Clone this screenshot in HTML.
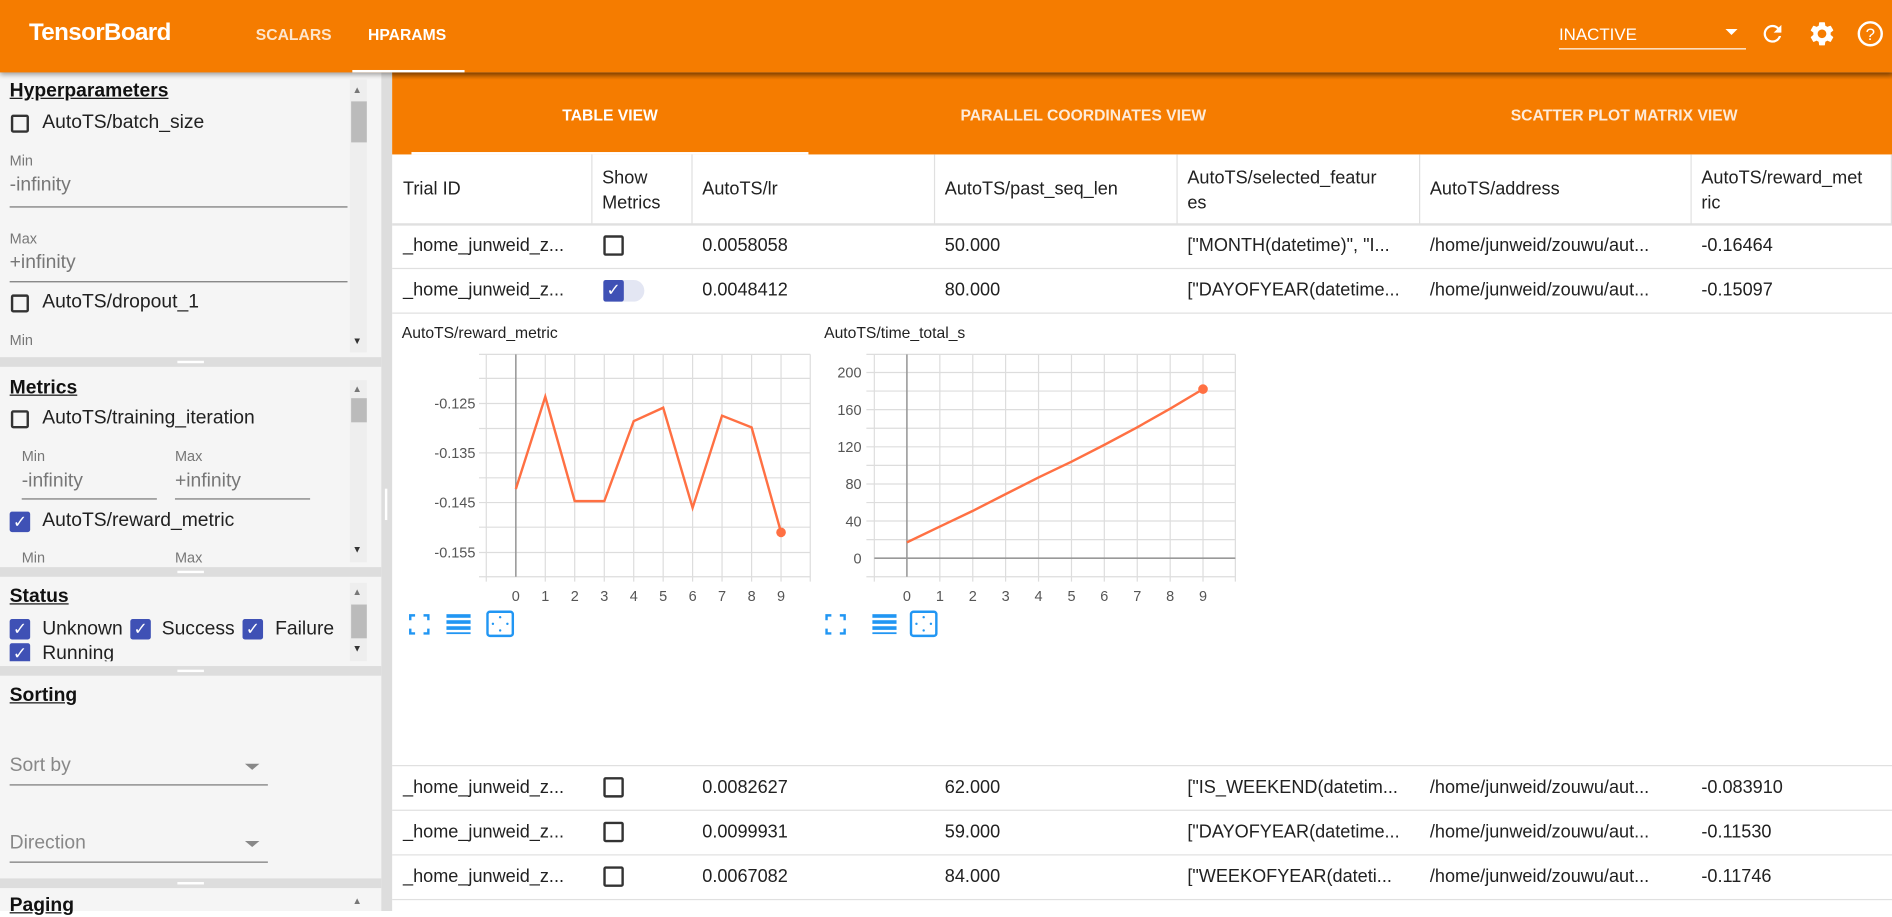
<!DOCTYPE html>
<html><head><meta charset="utf-8"><style>
html,body{margin:0;padding:0;width:1892px;height:911px;overflow:hidden;background:#fff}
#w{position:absolute;left:0;top:0;width:1568px;height:755px;transform:scale(1.20663);transform-origin:0 0;font-family:"Liberation Sans",sans-serif;color:#212121}
.a{position:absolute;white-space:nowrap}
.cb{position:absolute;width:15px;height:15px;border:2px solid #333;border-radius:2px;box-sizing:border-box}
.ck{position:absolute;width:17px;height:17px;background:#3f51b5;border-radius:2px;color:#fff;font-size:14px;line-height:17px;text-align:center}
.sep{position:absolute;left:0;width:316px;height:8px;background:#ddd}
.sep i{position:absolute;left:147px;top:3px;width:22px;height:2px;background:#fff}
.h{font-weight:bold;text-decoration:underline;font-size:16px;color:#111}
.lbl{font-size:12px;color:#777}
.inp{font-size:16px;color:#777}
.ln{position:absolute;height:1px;background:#777}
.sb{position:absolute;left:290px;width:14px;background:#eee}
.th{font-size:15px;color:#212121}
.td{font-size:15px;color:#212121}
.hl{position:absolute;left:325px;width:1243px;height:1px;background:#e0e0e0}
.vl{position:absolute;width:1px;background:#e0e0e0;top:128px;height:58px}
</style></head><body><div id="w">
<!-- top bar -->
<div class="a" style="left:0;top:0;width:1568px;height:60px;background:#f57c00;box-shadow:0 2px 4px rgba(0,0,0,.35);z-index:2">
 <div class="a" style="left:24px;top:16px;font-size:20px;font-weight:bold;color:#fff;letter-spacing:-0.5px">TensorBoard</div>
 <div class="a" style="left:212px;top:21px;font-size:13px;font-weight:bold;color:rgba(255,255,255,.8)">SCALARS</div>
 <div class="a" style="left:305px;top:21px;font-size:13px;font-weight:bold;color:#fff">HPARAMS</div>
 <div class="a" style="left:292px;top:58px;width:93px;height:2px;background:#fff"></div>
 <div class="a" style="left:1292px;top:20px;font-size:14px;color:#fff">INACTIVE</div>
 <div class="a" style="left:1430px;top:24px;width:0;height:0;border-left:5px solid transparent;border-right:5px solid transparent;border-top:5px solid #fff"></div>
 <div class="a" style="left:1292px;top:40px;width:155px;height:1px;background:#fff"></div>
 <svg class="a" style="left:1458px;top:17px" width="22" height="22" viewBox="0 0 24 24"><path fill="#fff" d="M17.65 6.35A7.958 7.958 0 0 0 12 4a8 8 0 1 0 7.73 10h-2.08A6 6 0 1 1 12 6c1.66 0 3.14.69 4.22 1.78L13 11h7V4l-2.35 2.35z"/></svg>
 <svg class="a" style="left:1498px;top:16px" width="24" height="24" viewBox="0 0 24 24"><path fill="#fff" d="M19.14 12.94c.04-.3.06-.61.06-.94 0-.32-.02-.64-.07-.94l2.03-1.58a.49.49 0 0 0 .12-.61l-1.92-3.32a.488.488 0 0 0-.59-.22l-2.39.96c-.5-.38-1.03-.7-1.62-.94l-.36-2.54a.484.484 0 0 0-.48-.41h-3.84c-.24 0-.43.17-.47.41l-.36 2.54c-.59.24-1.13.57-1.62.94l-2.39-.96c-.22-.08-.47 0-.59.22L2.74 8.87c-.12.21-.08.47.12.61l2.03 1.58c-.05.3-.09.63-.09.94s.02.64.07.94l-2.03 1.58a.49.49 0 0 0-.12.61l1.92 3.32c.12.22.37.29.59.22l2.39-.96c.5.38 1.03.7 1.62.94l.36 2.54c.05.24.24.41.48.41h3.84c.24 0 .44-.17.47-.41l.36-2.54c.59-.24 1.13-.56 1.62-.94l2.39.96c.22.08.47 0 .59-.22l1.92-3.32c.12-.22.07-.47-.12-.61l-2.01-1.58zM12 15.6c-1.98 0-3.6-1.62-3.6-3.6s1.62-3.6 3.6-3.6 3.6 1.62 3.6 3.6-1.62 3.6-3.6 3.6z"/></svg>
 <svg class="a" style="left:1538px;top:16px" width="24" height="24" viewBox="0 0 24 24"><circle cx="12" cy="12" r="9.5" fill="none" stroke="#fff" stroke-width="2"/><text x="12" y="17" font-size="14" font-family="Liberation Sans" fill="#fff" text-anchor="middle">?</text></svg>
</div>
<!-- sidebar -->
<div class="a" style="left:0;top:60px;width:316px;height:695px;background:#f5f5f5"></div>
<div class="a" style="left:316px;top:60px;width:9px;height:695px;background:#ddd"></div>
<div class="a" style="left:319px;top:405px;width:2px;height:26px;background:#fff"></div>
<div class="sep" style="top:296px"><i></i></div>
<div class="sep" style="top:470px"><i></i></div>
<div class="sep" style="top:552px"><i></i></div>
<div class="sep" style="top:728px"><i></i></div>
<div class="sb" style="top:66px;height:226px"></div><div class="a" style="left:291px;top:84px;width:13px;height:34px;background:#bbb"></div>
<div class="a" style="left:292px;top:70px;font-size:8px;color:#777">▲</div><div class="a" style="left:292px;top:278px;font-size:8px;color:#333">▼</div>
<div class="sb" style="top:315px;height:151px"></div><div class="a" style="left:291px;top:330px;width:13px;height:20px;background:#bbb"></div>
<div class="a" style="left:292px;top:318px;font-size:8px;color:#777">▲</div><div class="a" style="left:292px;top:451px;font-size:8px;color:#333">▼</div>
<div class="sb" style="top:483px;height:65px"></div><div class="a" style="left:291px;top:501px;width:13px;height:28px;background:#bbb"></div>
<div class="a" style="left:292px;top:486px;font-size:8px;color:#777">▲</div><div class="a" style="left:292px;top:533px;font-size:8px;color:#333">▼</div>
<div class="a" style="left:292px;top:742px;font-size:8px;color:#777">▲</div>

<div class="a h" style="left:8px;top:67px">Hyperparameters</div>
<div class="cb" style="left:9px;top:95px"></div><div class="a" style="left:35px;top:93px;font-size:16px">AutoTS/batch_size</div>
<div class="a lbl" style="left:8px;top:126px">Min</div>
<div class="a inp" style="left:8px;top:145px">-infinity</div><div class="ln" style="left:8px;top:171px;width:280px"></div>
<div class="a lbl" style="left:8px;top:191px">Max</div>
<div class="a inp" style="left:8px;top:209px">+infinity</div><div class="ln" style="left:8px;top:233px;width:280px"></div>
<div class="cb" style="left:9px;top:244px"></div><div class="a" style="left:35px;top:242px;font-size:16px">AutoTS/dropout_1</div>
<div class="a lbl" style="left:8px;top:275px">Min</div>

<div class="a h" style="left:8px;top:313px">Metrics</div>
<div class="cb" style="left:9px;top:340px"></div><div class="a" style="left:35px;top:338px;font-size:16px">AutoTS/training_iteration</div>
<div class="a lbl" style="left:18px;top:371px">Min</div><div class="a lbl" style="left:145px;top:371px">Max</div>
<div class="a inp" style="left:18px;top:390px">-infinity</div><div class="a inp" style="left:145px;top:390px">+infinity</div>
<div class="ln" style="left:18px;top:413px;width:112px"></div><div class="ln" style="left:145px;top:413px;width:112px"></div>
<div class="ck" style="left:8px;top:424px">✓</div><div class="a" style="left:35px;top:423px;font-size:16px">AutoTS/reward_metric</div>
<div class="a lbl" style="left:18px;top:455px;height:12px;overflow:hidden">Min</div><div class="a lbl" style="left:145px;top:455px;height:12px;overflow:hidden">Max</div>

<div class="a h" style="left:8px;top:486px">Status</div>
<div class="ck" style="left:8px;top:513px">✓</div><div class="a" style="left:35px;top:513px;font-size:16px">Unknown</div>
<div class="ck" style="left:108px;top:513px">✓</div><div class="a" style="left:134px;top:513px;font-size:16px">Success</div>
<div class="ck" style="left:201px;top:513px">✓</div><div class="a" style="left:228px;top:513px;font-size:16px">Failure</div>
<div class="a" style="left:0;top:533px;width:290px;height:15px;overflow:hidden"><div class="ck" style="left:8px;top:0">✓</div><div class="a" style="left:35px;top:0;font-size:16px">Running</div></div>

<div class="a h" style="left:8px;top:568px">Sorting</div>
<div class="a" style="left:8px;top:626px;font-size:16px;color:#888">Sort by</div>
<div class="a" style="left:203px;top:633px;border-left:6px solid transparent;border-right:6px solid transparent;border-top:5px solid #888"></div>
<div class="ln" style="left:8px;top:650px;width:214px"></div>
<div class="a" style="left:8px;top:690px;font-size:16px;color:#888">Direction</div>
<div class="a" style="left:203px;top:697px;border-left:6px solid transparent;border-right:6px solid transparent;border-top:5px solid #888"></div>
<div class="ln" style="left:8px;top:714px;width:214px"></div>
<div class="a h" style="left:8px;top:742px">Paging</div>

<!-- tab bar -->
<div class="a" style="left:325px;top:60px;width:1243px;height:68px;background:#f57c00"></div>
<div class="a" style="left:325px;top:60px;width:1243px;height:6px;background:linear-gradient(rgba(0,0,0,.25),rgba(0,0,0,0))"></div>
<div class="a" style="left:466px;top:88px;font-size:13px;font-weight:bold;color:#fff">TABLE VIEW</div>
<div class="a" style="left:796px;top:88px;font-size:13px;font-weight:bold;color:rgba(255,255,255,.85)">PARALLEL COORDINATES VIEW</div>
<div class="a" style="left:1252px;top:88px;font-size:13px;font-weight:bold;color:rgba(255,255,255,.85)">SCATTER PLOT MATRIX VIEW</div>
<div class="a" style="left:341px;top:126px;width:329px;height:2px;background:#fff"></div>

<!-- table -->
<div class="vl" style="left:490px"></div><div class="vl" style="left:573px"></div><div class="vl" style="left:774px"></div><div class="vl" style="left:975px"></div><div class="vl" style="left:1176px"></div><div class="vl" style="left:1401px"></div><div class="vl" style="left:1567px"></div>
<div class="a th" style="left:334px;top:148px">Trial ID</div>
<div class="a th" style="left:499px;top:137px;line-height:21px">Show<br>Metrics</div>
<div class="a th" style="left:582px;top:148px">AutoTS/lr</div>
<div class="a th" style="left:783px;top:148px">AutoTS/past_seq_len</div>
<div class="a th" style="left:984px;top:137px;line-height:21px">AutoTS/selected_featur<br>es</div>
<div class="a th" style="left:1185px;top:148px">AutoTS/address</div>
<div class="a th" style="left:1410px;top:137px;line-height:21px">AutoTS/reward_met<br>ric</div>
<div class="hl" style="top:185px;height:2px"></div><div class="hl" style="top:222px"></div><div class="hl" style="top:259px"></div>
<div class="hl" style="top:634px"></div><div class="hl" style="top:671px"></div><div class="hl" style="top:708px"></div><div class="hl" style="top:745px"></div>

<div class="a td" style="left:334px;top:195px">_home_junweid_z...</div><div class="cb" style="left:500px;top:195px;width:17px;height:17px"></div>
<div class="a td" style="left:582px;top:195px">0.0058058</div><div class="a td" style="left:783px;top:195px">50.000</div>
<div class="a td" style="left:984px;top:195px">["MONTH(datetime)", "I...</div><div class="a td" style="left:1185px;top:195px">/home/junweid/zouwu/aut...</div><div class="a td" style="left:1410px;top:195px">-0.16464</div>

<div class="a td" style="left:334px;top:232px">_home_junweid_z...</div>
<div class="a" style="left:500px;top:232px;width:34px;height:18px;background:#e3e6f3;border-radius:9px"></div><div class="ck" style="left:500px;top:232px;height:18px">✓</div>
<div class="a td" style="left:582px;top:232px">0.0048412</div><div class="a td" style="left:783px;top:232px">80.000</div>
<div class="a td" style="left:984px;top:232px">["DAYOFYEAR(datetime...</div><div class="a td" style="left:1185px;top:232px">/home/junweid/zouwu/aut...</div><div class="a td" style="left:1410px;top:232px">-0.15097</div>

<div class="a td" style="left:334px;top:644px">_home_junweid_z...</div><div class="cb" style="left:500px;top:644px;width:17px;height:17px"></div>
<div class="a td" style="left:582px;top:644px">0.0082627</div><div class="a td" style="left:783px;top:644px">62.000</div>
<div class="a td" style="left:984px;top:644px">["IS_WEEKEND(datetim...</div><div class="a td" style="left:1185px;top:644px">/home/junweid/zouwu/aut...</div><div class="a td" style="left:1410px;top:644px">-0.083910</div>

<div class="a td" style="left:334px;top:681px">_home_junweid_z...</div><div class="cb" style="left:500px;top:681px;width:17px;height:17px"></div>
<div class="a td" style="left:582px;top:681px">0.0099931</div><div class="a td" style="left:783px;top:681px">59.000</div>
<div class="a td" style="left:984px;top:681px">["DAYOFYEAR(datetime...</div><div class="a td" style="left:1185px;top:681px">/home/junweid/zouwu/aut...</div><div class="a td" style="left:1410px;top:681px">-0.11530</div>

<div class="a td" style="left:334px;top:718px">_home_junweid_z...</div><div class="cb" style="left:500px;top:718px;width:17px;height:17px"></div>
<div class="a td" style="left:582px;top:718px">0.0067082</div><div class="a td" style="left:783px;top:718px">84.000</div>
<div class="a td" style="left:984px;top:718px">["WEEKOFYEAR(dateti...</div><div class="a td" style="left:1185px;top:718px">/home/junweid/zouwu/aut...</div><div class="a td" style="left:1410px;top:718px">-0.11746</div>

<!-- charts -->
<svg class="a" style="left:0;top:0" width="1568" height="755" font-family="Liberation Sans">
 <text x="333" y="280" font-size="13" fill="#212121">AutoTS/reward_metric</text>
 <text x="683" y="280" font-size="13" fill="#212121">AutoTS/time_total_s</text>
 <g stroke="#ddd" stroke-width="1">
  <line x1="397" y1="293.7" x2="671.5" y2="293.7"/><line x1="397" y1="313.6" x2="671.5" y2="313.6"/><line x1="397" y1="334.4" x2="671.5" y2="334.4"/><line x1="397" y1="355.1" x2="671.5" y2="355.1"/><line x1="397" y1="375.3" x2="671.5" y2="375.3"/><line x1="397" y1="396" x2="671.5" y2="396"/><line x1="397" y1="416.5" x2="671.5" y2="416.5"/><line x1="397" y1="436.9" x2="671.5" y2="436.9"/><line x1="397" y1="457.9" x2="671.5" y2="457.9"/><line x1="397" y1="478" x2="671.5" y2="478"/>
  <line x1="403" y1="293.7" x2="403" y2="482"/><line x1="451.9" y1="293.7" x2="451.9" y2="482"/><line x1="476.3" y1="293.7" x2="476.3" y2="482"/><line x1="500.8" y1="293.7" x2="500.8" y2="482"/><line x1="525.2" y1="293.7" x2="525.2" y2="482"/><line x1="549.6" y1="293.7" x2="549.6" y2="482"/><line x1="574" y1="293.7" x2="574" y2="482"/><line x1="598.4" y1="293.7" x2="598.4" y2="482"/><line x1="622.9" y1="293.7" x2="622.9" y2="482"/><line x1="647.3" y1="293.7" x2="647.3" y2="482"/><line x1="671.5" y1="293.7" x2="671.5" y2="482"/>
 </g>
 <line x1="427.5" y1="293.7" x2="427.5" y2="478" stroke="#999" stroke-width="1.3"/>
 <g font-size="12" fill="#555" text-anchor="end"><text x="394" y="338.5">-0.125</text><text x="394" y="379.5">-0.135</text><text x="394" y="420.5">-0.145</text><text x="394" y="462">-0.155</text></g>
 <g font-size="12" fill="#555" text-anchor="middle"><text x="427.5" y="498">0</text><text x="451.9" y="498">1</text><text x="476.3" y="498">2</text><text x="500.8" y="498">3</text><text x="525.2" y="498">4</text><text x="549.6" y="498">5</text><text x="574" y="498">6</text><text x="598.4" y="498">7</text><text x="622.9" y="498">8</text><text x="647.3" y="498">9</text></g>
 <polyline fill="none" stroke="#ff7043" stroke-width="2" points="427.5,405.3 451.9,328.8 476.3,415.3 500.8,415.3 525.2,349 549.6,337.9 574,420.8 598.4,344.5 622.9,354.2 647.3,441.2"/>
 <circle cx="647.3" cy="441.2" r="4" fill="#ff7043"/>

 <g stroke="#ddd" stroke-width="1">
  <line x1="718" y1="293.7" x2="1023.8" y2="293.7"/><line x1="718" y1="308.7" x2="1023.8" y2="308.7"/><line x1="718" y1="324.1" x2="1023.8" y2="324.1"/><line x1="718" y1="339.5" x2="1023.8" y2="339.5"/><line x1="718" y1="354.9" x2="1023.8" y2="354.9"/><line x1="718" y1="370.3" x2="1023.8" y2="370.3"/><line x1="718" y1="385.7" x2="1023.8" y2="385.7"/><line x1="718" y1="401.1" x2="1023.8" y2="401.1"/><line x1="718" y1="416.5" x2="1023.8" y2="416.5"/><line x1="718" y1="431.8" x2="1023.8" y2="431.8"/><line x1="718" y1="447.2" x2="1023.8" y2="447.2"/><line x1="718" y1="478" x2="1023.8" y2="478"/>
  <line x1="724.6" y1="293.7" x2="724.6" y2="482"/><line x1="778.9" y1="293.7" x2="778.9" y2="482"/><line x1="806.2" y1="293.7" x2="806.2" y2="482"/><line x1="833.4" y1="293.7" x2="833.4" y2="482"/><line x1="860.7" y1="293.7" x2="860.7" y2="482"/><line x1="888" y1="293.7" x2="888" y2="482"/><line x1="915.2" y1="293.7" x2="915.2" y2="482"/><line x1="942.5" y1="293.7" x2="942.5" y2="482"/><line x1="969.8" y1="293.7" x2="969.8" y2="482"/><line x1="997" y1="293.7" x2="997" y2="482"/><line x1="1023.8" y1="293.7" x2="1023.8" y2="482"/>
 </g>
 <line x1="751.6" y1="293.7" x2="751.6" y2="478" stroke="#999" stroke-width="1.3"/>
 <line x1="724.6" y1="462.6" x2="1023.8" y2="462.6" stroke="#999" stroke-width="1.3"/>
 <g font-size="12" fill="#555" text-anchor="end"><text x="714" y="313">200</text><text x="714" y="343.8">160</text><text x="714" y="374.6">120</text><text x="714" y="405.4">80</text><text x="714" y="436.2">40</text><text x="714" y="467">0</text></g>
 <g font-size="12" fill="#555" text-anchor="middle"><text x="751.6" y="498">0</text><text x="778.9" y="498">1</text><text x="806.2" y="498">2</text><text x="833.4" y="498">3</text><text x="860.7" y="498">4</text><text x="888" y="498">5</text><text x="915.2" y="498">6</text><text x="942.5" y="498">7</text><text x="969.8" y="498">8</text><text x="997" y="498">9</text></g>
 <polyline fill="none" stroke="#ff7043" stroke-width="2" points="751.6,449.5 778.9,436.4 806.2,423.4 833.4,409.5 860.7,395.7 888,382.6 915.2,368.7 942.5,354.1 969.8,338.7 997,322.5"/>
 <circle cx="997" cy="322.5" r="4" fill="#ff7043"/>

 <g fill="none" stroke="#2196f3" stroke-width="2">
  <path d="M340 514v-4h4M351 510h4v4M355 521v4h-4M344 525h-4v-4"/>
  <path d="M685 514v-4h4M696 510h4v4M700 521v4h-4M689 525h-4v-4"/>
  <rect x="404" y="507" width="21" height="20" rx="2"/><rect x="755" y="507" width="21" height="20" rx="2"/>
 </g>
 <g fill="#2196f3">
  <rect x="370" y="509" width="20" height="3"/><rect x="370" y="514" width="20" height="3"/><rect x="370" y="519" width="20" height="3"/><rect x="370" y="524" width="20" height="1.5"/>
  <rect x="723" y="509" width="20" height="3"/><rect x="723" y="514" width="20" height="3"/><rect x="723" y="519" width="20" height="3"/><rect x="723" y="524" width="20" height="1.5"/>
  <circle cx="414.5" cy="511.5" r="1"/><circle cx="414.5" cy="522.5" r="1"/><circle cx="408.5" cy="517" r="1"/><circle cx="420.5" cy="517" r="1"/>
  <circle cx="765.5" cy="511.5" r="1"/><circle cx="765.5" cy="522.5" r="1"/><circle cx="759.5" cy="517" r="1"/><circle cx="771.5" cy="517" r="1"/>
 </g>
</svg>
</div></body></html>
